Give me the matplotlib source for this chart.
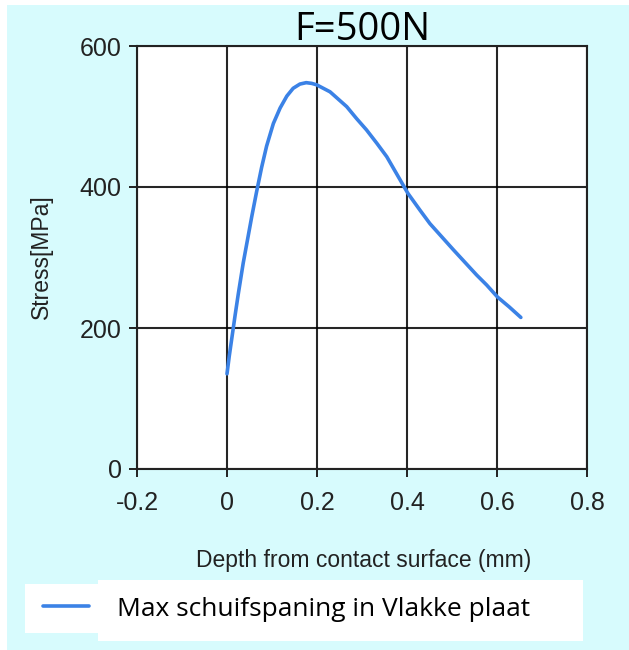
import matplotlib
matplotlib.use("Agg")
import matplotlib.pyplot as plt
from matplotlib.patches import Rectangle

# Data
depth_mm = [0.0, 0.005, 0.018, 0.025, 0.036, 0.055, 0.066, 0.077, 0.088, 0.103,
            0.118, 0.133, 0.147, 0.162, 0.176, 0.188, 0.199, 0.229, 0.266, 0.288,
            0.31, 0.333, 0.355, 0.402, 0.429, 0.451, 0.503, 0.529, 0.555, 0.577,
            0.601, 0.627, 0.653]
stress_mpa = [135, 160, 218, 248, 292, 358, 394, 428, 458, 490,
              512, 529, 540, 546, 548, 547, 545, 535, 514, 497,
              481, 462, 443, 391, 367, 348, 311, 293, 275, 261,
              244, 230, 215]
x_ticks = [-0.2, 0, 0.2, 0.4, 0.6, 0.8]
x_tick_labels = ["-0.2", "0", "0.2", "0.4", "0.6", "0.8"]
y_ticks = [0, 200, 400, 600]
y_tick_labels = ["0", "200", "400", "600"]
title = "F=500N"
x_label = "Depth from contact surface (mm)"
y_label = "Stress[MPa]"
series_label = "Max schuifspaning in Vlakke plaat"

W, H = 629, 650
fig = plt.figure(figsize=(W / 100, H / 100), dpi=100, facecolor="white")

# cyan background panel
fig.patches.append(Rectangle((7 / W, 0), 1 - 7 / W, 1 - 5 / H,
                             transform=fig.transFigure, facecolor="#d7fbfd",
                             edgecolor="none", zorder=-10))
# legend white boxes
fig.patches.append(Rectangle((25 / W, 1 - 633 / H), 73 / W, 49 / H,
                             transform=fig.transFigure, facecolor="white",
                             edgecolor="none", zorder=-5))
fig.patches.append(Rectangle((98 / W, 1 - 641 / H), 485 / W, 61 / H,
                             transform=fig.transFigure, facecolor="white",
                             edgecolor="none", zorder=-5))

ax = fig.add_axes([137 / W, 1 - 469 / H, 450 / W, 423 / H])
ax.set_facecolor("white")

line, = ax.plot(depth_mm, stress_mpa, color="#3b82e6", lw=2.6,
                solid_capstyle="round", solid_joinstyle="round",
                label=series_label, zorder=3)

ax.set_xlim(-0.2, 0.8)
ax.set_ylim(0, 600)
ax.set_xticks(x_ticks)
ax.set_xticklabels(x_tick_labels)
ax.set_yticks(y_ticks)
ax.set_yticklabels(y_tick_labels)

for lab in ax.get_xticklabels() + ax.get_yticklabels():
    lab.set_fontfamily(["Liberation Sans", "DejaVu Sans"])
    lab.set_fontsize(18)
    lab.set_color("#222222")

ax.tick_params(axis="both", direction="out", length=6, width=1.4, color="#222222")
ax.tick_params(axis="x", pad=10)
ax.tick_params(axis="y", pad=5)

ax.grid(True, color="black", lw=1.5, alpha=0.85)
ax.set_axisbelow(True)
for sp in ax.spines.values():
    sp.set_color("#222222")
    sp.set_linewidth(1.5)

ax.set_xlabel(x_label, fontsize=16.5, family=["Liberation Sans", "DejaVu Sans"],
              color="#222222", va="center")
ax.xaxis.set_label_coords((364 - 137) / 450, (469 - 561) / 423)
ax.set_ylabel(y_label, fontsize=16.5, family=["Liberation Sans", "DejaVu Sans"],
              color="#222222", va="center")
ax.yaxis.set_label_coords((41 - 137) / 450, (469 - 257) / 423)

ax.set_title(title, fontsize=27.5, family=["Open Sans", "DejaVu Sans"],
             va="baseline", y=1 + 6 / 423, pad=0)

fig.legend(handles=[line], labels=[series_label], loc="center left",
           bbox_to_anchor=(43 / W, 1 - 609 / H), frameon=False,
           prop={"family": ["Open Sans", "DejaVu Sans"], "size": 19},
           handlelength=1.75, handletextpad=1.05, borderpad=0,
           borderaxespad=0)

fig.savefig("out.png", dpi=100, facecolor="white")
